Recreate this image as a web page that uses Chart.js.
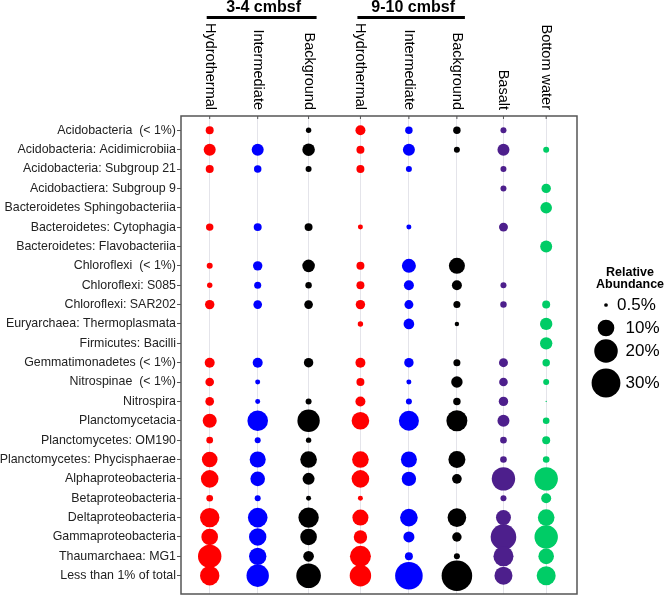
<!DOCTYPE html>
<html>
<head>
<meta charset="utf-8">
<script src="https://cdn.jsdelivr.net/npm/chart.js@4.4.1/dist/chart.umd.min.js"></script>
<style>
  html, body { margin: 0; padding: 0; background: #fff; }
</style>
</head>
<body>
<canvas id="bubbleChart" width="666" height="596"></canvas>
<script>
// Taxa (rows, top to bottom)
const taxa = [
    'Acidobacteria  (< 1%)', 'Acidobacteria: Acidimicrobiia', 'Acidobacteria: Subgroup 21',
    'Acidobactiera: Subgroup 9', 'Bacteroidetes Sphingobacteriia', 'Bacteroidetes: Cytophagia',
    'Bacteroidetes: Flavobacteriia', 'Chloroflexi  (< 1%)', 'Chloroflexi: S085', 'Chloroflexi: SAR202',
    'Euryarchaea: Thermoplasmata', 'Firmicutes: Bacilli', 'Gemmatimonadetes (< 1%)', 'Nitrospinae  (< 1%)',
    'Nitrospira', 'Planctomycetacia', 'Planctomycetes: OM190', 'Planctomycetes: Phycisphaerae',
    'Alphaproteobacteria', 'Betaproteobacteria', 'Deltaproteobacteria', 'Gammaproteobacteria',
    'Thaumarchaea: MG1', 'Less than 1% of total'
];

// Sample columns
const columns = ['Hydrothermal', 'Intermediate', 'Background', 'Hydrothermal', 'Intermediate', 'Background', 'Basalt', 'Bottom water'];
const columnPos = [1, 2, 3.06, 4.14, 5.15, 6.15, 7.12, 8.01];
const groupNames = ['3-4 cmbsf', '9-10 cmbsf'];
const groupCols = [[0, 2], [3, 5]];
const colours = ['#ff0000', '#0000ff', '#000000', '#ff0000', '#0000ff', '#000000', '#4d1f8c', '#00cc66'];

// Relative abundance (%) per sample, one value per taxon (0 = not shown)
const hydro34 = [2.3, 5.2, 2.3, 0, 0, 2.0, 0, 1.3, 1.05, 3.2, 0, 0, 3.6, 2.7, 2.7, 7.1, 1.6, 8.8, 11.2, 1.6, 13.6, 10.0, 19.8, 13.6];
const inter34 = [0, 5.2, 2.0, 0, 0, 2.3, 0, 3.2, 1.8, 2.7, 0, 0, 3.6, 0.9, 0.9, 15.3, 1.3, 9.3, 7.7, 1.3, 13.9, 10.9, 10.9, 18.1];
const back34 = [1.05, 5.7, 1.3, 0, 0, 2.3, 0, 5.7, 1.5, 2.7, 0, 0, 3.2, 0, 1.3, 18.1, 1.05, 10.0, 5.2, 0.9, 15.0, 10.0, 4.1, 21.9];
const hydro910 = [3.6, 2.3, 2.3, 0, 0, 0.9, 0, 2.3, 2.3, 3.2, 1.05, 0, 3.6, 2.3, 3.6, 11.2, 0, 10.0, 11.2, 0.9, 9.3, 6.5, 15.9, 16.6];
const inter910 = [2.0, 5.2, 1.3, 0, 0, 0.9, 0, 7.1, 3.6, 2.9, 4.1, 0, 3.2, 0.9, 1.3, 14.5, 0, 9.3, 7.5, 0, 11.2, 4.4, 2.3, 27.5];
const back910 = [2.0, 1.3, 0, 0, 0, 0, 0, 9.3, 3.6, 1.8, 0.7, 0, 1.8, 4.7, 2.0, 15.9, 0, 10.4, 3.4, 0, 12.5, 3.2, 1.3, 33.8];
const basalt = [1.3, 5.2, 1.3, 1.3, 0, 2.9, 0, 0, 1.3, 1.5, 0, 0, 2.9, 2.7, 3.2, 5.2, 1.6, 1.6, 19.8, 1.3, 8.1, 23.7, 14.5, 11.7];
const bottomWater = [0, 1.3, 0, 3.2, 4.9, 0, 5.2, 0, 0, 2.3, 5.5, 5.5, 2.0, 1.3, 0.07, 1.6, 2.3, 1.6, 19.8, 3.6, 10.0, 19.8, 8.8, 13.0];

const legendSizes = [0.5, 10, 20, 30];
const legendLabels = ['0.5%', '10%', '20%', '30%'];

// bubble radius in px from percentage (area scaled)
function rad(p) {
    return 2.63 * Math.sqrt(p);
}

const series = [hydro34, inter34, back34, hydro910, inter910, back910, basalt, bottomWater];
const datasets = series.map((vals, i) => ({
    data: vals.map((v, row) => v > 0 ? { x: columnPos[i], y: row, r: rad(v) } : null).filter(Boolean),
    backgroundColor: colours[i],
    borderWidth: 0,
    clip: false
}));

const FONT = '"Liberation Sans", Arial, Helvetica, sans-serif';
Chart.defaults.font.family = FONT;

// column labels, group headers, frame and size legend
const overlay = {
    id: 'overlay',
    afterDraw(chart) {
        const { ctx, chartArea: a, scales: { x } } = chart;
        ctx.save();
        ctx.strokeStyle = '#555';
        ctx.lineWidth = 1.5;
        ctx.strokeRect(a.left, a.top, a.right - a.left, a.bottom - a.top);

        ctx.fillStyle = '#000';
        ctx.font = '14.5px ' + FONT;
        columns.forEach((label, i) => {
            const px = x.getPixelForValue(columnPos[i]);
            ctx.lineWidth = 1;
            ctx.beginPath();
            ctx.moveTo(px, a.top);
            ctx.lineTo(px, a.top + 3);
            ctx.stroke();
            ctx.save();
            ctx.translate(px, a.top - 6);
            ctx.rotate(Math.PI / 2);
            ctx.textAlign = 'right';
            ctx.textBaseline = 'middle';
            ctx.fillText(label, 0, 0);
            ctx.restore();
        });

        // group headers
        ctx.font = 'bold 16px ' + FONT;
        ctx.textAlign = 'center';
        ctx.textBaseline = 'middle';
        groupNames.forEach((name, g) => {
            const x0 = x.getPixelForValue(columnPos[groupCols[g][0]]) - 3;
            const x1 = x.getPixelForValue(columnPos[groupCols[g][1]]) + 8;
            ctx.strokeStyle = '#000';
            ctx.lineWidth = 3;
            ctx.beginPath();
            ctx.moveTo(x0, 17.5);
            ctx.lineTo(x1, 17.5);
            ctx.stroke();
            ctx.fillText(name, (x0 + x1) / 2 + 2, 8);
        });

        // size legend
        ctx.font = 'bold 12.5px ' + FONT;
        ctx.fillText('Relative', 630, 273);
        ctx.fillText('Abundance', 630, 285);
        const legY = [305, 328, 351, 383];
        ctx.font = '17px ' + FONT;
        ctx.textAlign = 'left';
        legendSizes.forEach((p, i) => {
            const r = rad(p);
            ctx.beginPath();
            ctx.arc(606, legY[i], r, 0, Math.PI * 2);
            ctx.fill();
            ctx.fillText(legendLabels[i], r < 5 ? 617 : 625.5, legY[i]);
        });
        ctx.restore();
    }
};

const ctx = document.getElementById('bubbleChart').getContext('2d');
const myChart = new Chart(ctx, {
    type: 'bubble',
    data: { datasets: datasets },
    options: {
        responsive: false,
        animation: false,
        layout: { autoPadding: false, padding: { top: 116, right: 89, bottom: 2, left: 0 } },
        plugins: { legend: { display: false }, tooltip: { enabled: false } },
        scales: {
            x: {
                type: 'linear',
                position: 'top',
                min: 0.402,
                max: 8.652,
                ticks: { display: false },
                grid: { color: '#e4e4ea', lineWidth: 1, drawTicks: false },
                border: { display: false },
                afterBuildTicks: (axis) => { axis.ticks = columnPos.map(v => ({ value: v })); },
                afterFit: (axis) => { axis.height = 0; axis.paddingLeft = 0; axis.paddingRight = 0; }
            },
            y: {
                type: 'linear',
                reverse: true,
                min: -0.738,
                max: 23.945,
                ticks: {
                    autoSkip: false,
                    padding: 1,
                    color: '#222',
                    font: { size: 12.4 },
                    callback: (v) => taxa[v]
                },
                grid: { drawOnChartArea: false, drawTicks: true, tickLength: 4, color: '#555' },
                border: { display: false },
                afterBuildTicks: (axis) => { axis.ticks = taxa.map((t, i) => ({ value: i })); },
                afterFit: (axis) => { axis.width = 181; axis.paddingTop = 0; axis.paddingBottom = 0; }
            }
        }
    },
    plugins: [overlay]
});
</script>
</body>
</html>
